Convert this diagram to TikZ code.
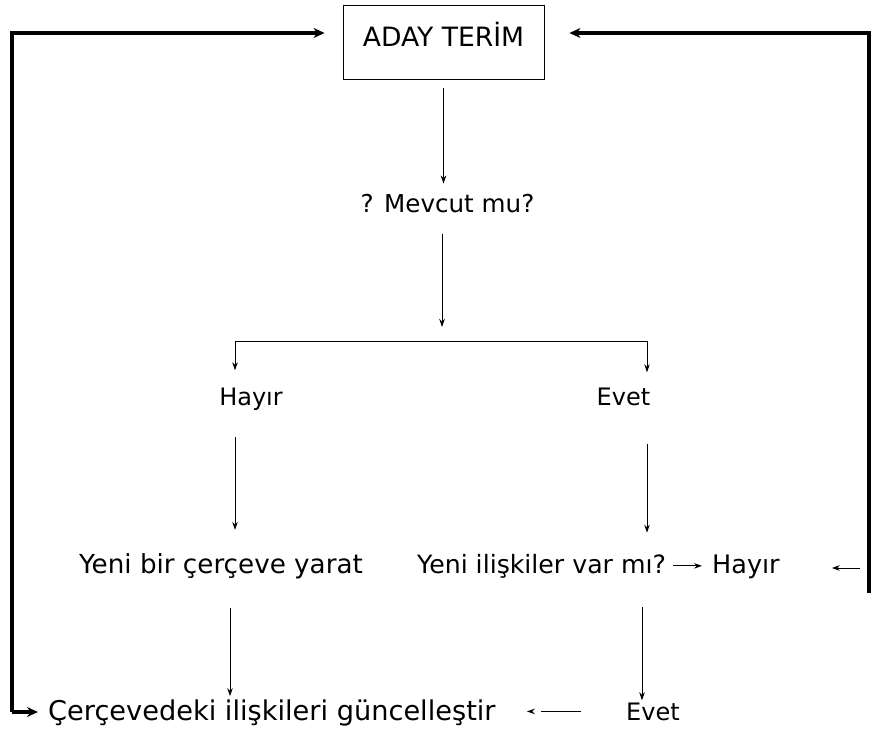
\documentclass[tikz,border=0pt]{standalone}
\usepackage{fontspec}
\setmainfont{DejaVu Sans}
\usetikzlibrary{arrows.meta}
\newcommand{\fs}[1]{\fontsize{#1}{#1}\selectfont}
\begin{document}
\begin{tikzpicture}[x=1pt,y=-1pt,
  lbl/.style={inner sep=0pt, font=\fs{25}},
  thinl/.style={line width=0.9pt},
  thickl/.style={line width=3.4pt},
  arr/.style={thinl, -{Stealth[length=8pt,width=5.5pt]}},
  barr/.style={thickl, -{Stealth[length=11pt,width=10pt]}}]
\useasboundingbox (0,0) rectangle (874,738);
% nodes
\node[lbl, font=\fs{26.6}, draw, thinl, anchor=base, minimum width=201pt,
      text height=42pt, text depth=32pt] (aday) at (443.5,47) {ADAY TERİM};
\node[lbl, font=\fs{24.6}, anchor=base] (mev) at (447.5,212) {? Mevcut mu?};
\node[lbl, font=\fs{24}, anchor=base] (hay) at (251,405) {Hayır};
\node[lbl, font=\fs{24}, anchor=base] (eve) at (623.5,405) {Evet};
\node[lbl, font=\fs{26.2}, anchor=base] (yeni) at (221,573) {Yeni bir çerçeve yarat};
\node[lbl, font=\fs{25.2}, anchor=base west] (ilis) at (417,573) {Yeni ilişkiler var mı?};
\node[lbl, font=\fs{25.5}, anchor=base west] (hay2) at (712,573) {Hayır};
\node[lbl, font=\fs{27.2}, anchor=base west] (cer) at (48,720) {Çerçevedeki ilişkileri güncelleştir};
\node[lbl, font=\fs{24}, anchor=base west] (eve2) at (626,720) {Evet};
% coordinates
\coordinate (ltop) at (12,33);
\coordinate (lbot) at (12,712);
\coordinate (rtop) at (869,33);
\coordinate (rbot) at (869,593);
\coordinate (split) at (442,341);
\coordinate (sl) at (235,341);
\coordinate (sr) at (647,341);
\coordinate (rr) at (860,568);
% thick loop lines
\draw[barr, shorten >=18pt] (lbot) -- (ltop) -- (ltop -| aday.west);
\draw[barr, shorten >=10pt] (lbot) -- (lbot -| cer.west);
\draw[barr, shorten >=25pt] (rbot) -- (rtop) -- (rtop -| aday.east);
% thin connectors
\draw[arr, shorten <=9pt, shorten >=10pt] (aday.south) -- (aday.south |- mev.north);
\draw[arr, shorten <=21pt, shorten >=14pt] (split |- mev.south) -- (split);
\draw[thinl] (sl) -- (sr);
\draw[arr, shorten >=17pt] (sl) -- (sl |- hay.north);
\draw[arr, shorten >=15pt] (sr) -- (sr |- eve.north);
\draw[arr, shorten <=27pt, shorten >=23pt] (sl |- hay.south) -- (sl |- yeni.north);
\draw[arr, shorten <=38pt, shorten >=21pt] (sr |- eve.south) -- (sr |- ilis.north);
\draw[arr, shorten <=7pt, shorten >=10pt] (ilis.east) -- (ilis.east -| hay2.west);
\draw[arr, shorten >=52pt] (rr) -- (rr -| hay2.east);
\draw[arr, shorten <=29pt, shorten >=3pt] ([xshift=9pt]yeni.south) -- ([xshift=9pt]yeni.south |- cer.north);
\draw[arr, shorten <=29pt, shorten >=2pt] ([xshift=-5pt]sr |- ilis.south) -- ([xshift=-5pt]sr |- eve2.north);
\draw[arr, dash pattern=on 40pt off 20pt, shorten <=45pt, shorten >=31pt] (eve2.west) -- (eve2.west -| cer.east);
\end{tikzpicture}
\end{document}
